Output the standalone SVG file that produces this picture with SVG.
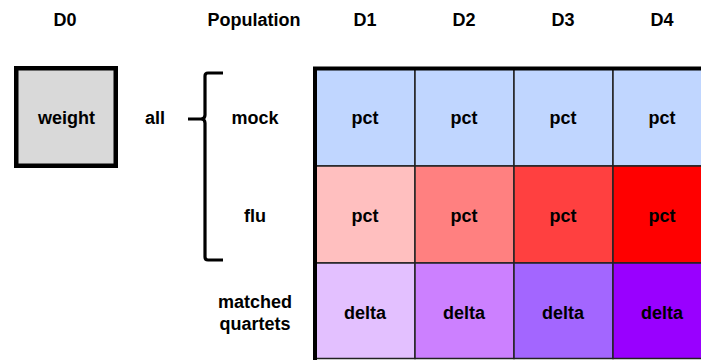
<svg xmlns="http://www.w3.org/2000/svg" width="701" height="360" viewBox="0 0 701 360">
<style>
text{font-family:"Liberation Sans",Arial,sans-serif;font-weight:bold;font-size:18px;fill:#000;text-anchor:middle}
.cell{stroke:#222;stroke-width:1.5}
.blue{fill:#c0d6ff}
</style>
<rect width="701" height="360" fill="#fff"/>
<g id="headers">
<text x="65" y="26">D0</text>
<text x="254" y="26">Population</text>
<text x="365" y="26">D1</text>
<text x="464" y="26">D2</text>
<text x="563" y="26">D3</text>
<text x="662" y="26">D4</text>
</g>
<g id="weight">
<rect x="16.25" y="68.25" width="99.5" height="97.5" fill="#d9d9d9" stroke="#000" stroke-width="4.5"/>
<text x="66.5" y="124">weight</text>
</g>
<g id="all"><text x="155" y="124">all</text></g>
<g id="brace">
<path d="M223,73 H208 Q205,73 205,76 V115 Q205,119 201,119 H188 M201,119 Q205,119 205,123 V257 Q205,260 208,260 H223" fill="none" stroke="#000" stroke-width="3.2"/>
</g>
<g id="row-labels">
<text x="255" y="124">mock</text>
<text x="255" y="222">flu</text>
<text x="255" y="308">matched</text>
<text x="255" y="330">quartets</text>
</g>
<g id="grid">
<rect class="cell blue" x="315" y="68.5" width="100" height="97.5"/>
<rect class="cell blue" x="415" y="68.5" width="99" height="97.5"/>
<rect class="cell blue" x="514" y="68.5" width="99" height="97.5"/>
<rect class="cell blue" x="613" y="68.5" width="99" height="97.5"/>
<rect class="cell" fill="#ffbfbf" x="315" y="166" width="100" height="97"/>
<rect class="cell" fill="#ff8080" x="415" y="166" width="99" height="97"/>
<rect class="cell" fill="#ff4040" x="514" y="166" width="99" height="97"/>
<rect class="cell" fill="#ff0000" x="613" y="166" width="99" height="97"/>
<rect class="cell" fill="#e3c0ff" x="315" y="263" width="100" height="95.5"/>
<rect class="cell" fill="#cc80ff" x="415" y="263" width="99" height="95.5"/>
<rect class="cell" fill="#a366ff" x="514" y="263" width="99" height="95.5"/>
<rect class="cell" fill="#9900ff" x="613" y="263" width="99" height="95.5"/>
<path d="M315,360 V68.5 H701" fill="none" stroke="#000" stroke-width="4"/>
<text x="365" y="124">pct</text>
<text x="464" y="124">pct</text>
<text x="563" y="124">pct</text>
<text x="662" y="124">pct</text>
<text x="365" y="222">pct</text>
<text x="464" y="222">pct</text>
<text x="563" y="222">pct</text>
<text x="662" y="222">pct</text>
<text x="365" y="319">delta</text>
<text x="464" y="319">delta</text>
<text x="563" y="319">delta</text>
<text x="662" y="319">delta</text>
</g>
</svg>
